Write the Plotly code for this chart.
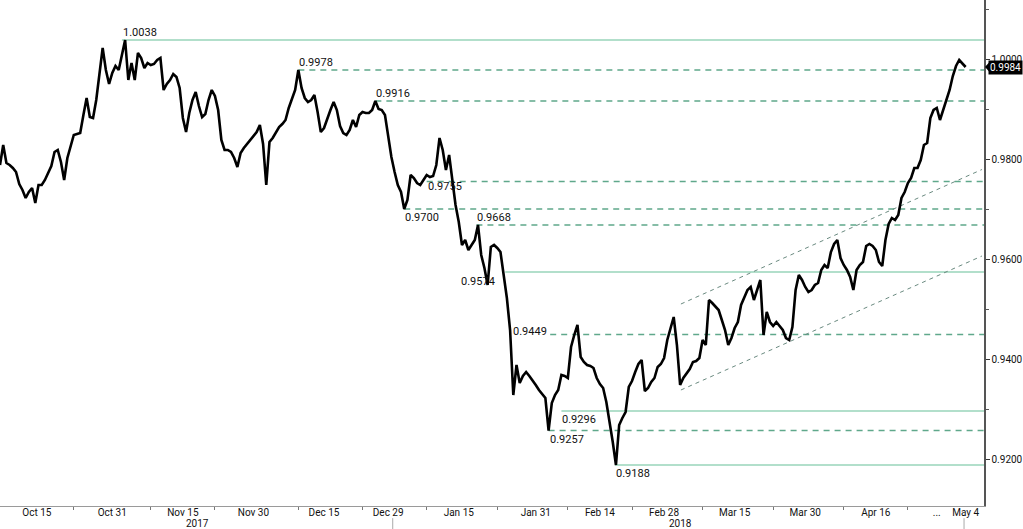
import pandas as pd
import plotly.graph_objects as go

# ---------------- data ----------------
first_day = "2017-10-06"
last_day = "2018-05-04"
# two readings per trading day (06:00 and 18:00)
price = [
    0.9788, 0.9828, 0.9792, 0.9788, 0.9782, 0.9774, 0.9750, 0.9738, 0.9722, 0.9734,
    0.9742, 0.9712, 0.9748, 0.9748, 0.9758, 0.9774, 0.9786, 0.9814, 0.9818, 0.9794,
    0.9758, 0.9802, 0.9828, 0.9848, 0.9850, 0.9852, 0.9888, 0.9922, 0.9884, 0.9882,
    0.9918, 0.9968, 1.0022, 0.9978, 0.9950, 0.9972, 0.9986, 0.9978, 1.0008, 1.0038,
    0.9958, 0.9992, 0.9958, 1.0012, 1.0002, 0.9982, 0.9992, 0.9988, 0.9990, 0.9998,
    1.0002, 0.9938, 0.9950, 0.9958, 0.9970, 0.9964, 0.9942, 0.9882, 0.9854, 0.9892,
    0.9918, 0.9934, 0.9906, 0.9884, 0.9890, 0.9918, 0.9938, 0.9926, 0.9898, 0.9838,
    0.9818, 0.9818, 0.9814, 0.9802, 0.9784, 0.9812, 0.9822, 0.9830, 0.9838, 0.9844,
    0.9854, 0.9868, 0.9830, 0.9748, 0.9834, 0.9842, 0.9852, 0.9864, 0.9870, 0.9878,
    0.9902, 0.9922, 0.9938, 0.9978, 0.9942, 0.9922, 0.9914, 0.9918, 0.9928, 0.9894,
    0.9854, 0.9862, 0.9882, 0.9898, 0.9914, 0.9898, 0.9866, 0.9852, 0.9848, 0.9858,
    0.9878, 0.9864, 0.9888, 0.9894, 0.9892, 0.9892, 0.9898, 0.9916, 0.9900, 0.9898,
    0.9888, 0.9848, 0.9804, 0.9774, 0.9748, 0.9734, 0.9700, 0.9718, 0.9768, 0.9762,
    0.9752, 0.9748, 0.9758, 0.9768, 0.9764, 0.9766, 0.9788, 0.9842, 0.9818, 0.9778,
    0.9808, 0.9754, 0.9708, 0.9674, 0.9628, 0.9638, 0.9618, 0.9628, 0.9638, 0.9668,
    0.9608, 0.9582, 0.9548, 0.9624, 0.9628, 0.9622, 0.9614, 0.9568, 0.9522, 0.9458,
    0.9328, 0.9388, 0.9352, 0.9366, 0.9374, 0.9366, 0.9358, 0.9348, 0.9338, 0.9330,
    0.9322, 0.9257, 0.9312, 0.9328, 0.9338, 0.9368, 0.9366, 0.9362, 0.9424, 0.9448,
    0.9468, 0.9404, 0.9394, 0.9388, 0.9386, 0.9382, 0.9362, 0.9350, 0.9342, 0.9314,
    0.9278, 0.9234, 0.9188, 0.9268, 0.9282, 0.9294, 0.9344, 0.9356, 0.9374, 0.9390,
    0.9398, 0.9336, 0.9342, 0.9354, 0.9362, 0.9384, 0.9390, 0.9402, 0.9438, 0.9462,
    0.9484, 0.9428, 0.9348, 0.9362, 0.9372, 0.9380, 0.9394, 0.9396, 0.9402, 0.9438,
    0.9428, 0.9518, 0.9512, 0.9504, 0.9498, 0.9478, 0.9458, 0.9428, 0.9442, 0.9462,
    0.9474, 0.9508, 0.9524, 0.9538, 0.9544, 0.9518, 0.9538, 0.9558, 0.9448, 0.9494,
    0.9474, 0.9466, 0.9474, 0.9466, 0.9458, 0.9442, 0.9438, 0.9464, 0.9538, 0.9568,
    0.9558, 0.9544, 0.9534, 0.9538, 0.9548, 0.9552, 0.9578, 0.9588, 0.9582, 0.9614,
    0.9630, 0.9638, 0.9602, 0.9588, 0.9578, 0.9564, 0.9538, 0.9578, 0.9588, 0.9594,
    0.9626, 0.9630, 0.9626, 0.9618, 0.9594, 0.9586, 0.9638, 0.9670, 0.9682, 0.9678,
    0.9688, 0.9722, 0.9734, 0.9752, 0.9762, 0.9782, 0.9782, 0.9798, 0.9828, 0.9832,
    0.9882, 0.9898, 0.9902, 0.9878, 0.9898, 0.9914, 0.9938, 0.9966, 0.9986, 0.9998,
    0.9990, 0.9984,
]
last_price = 0.9984

# support / resistance levels
level_values = [1.0038, 0.9978, 0.9916, 0.9755, 0.9700, 0.9668, 0.9574, 0.9449, 0.9296, 0.9257, 0.9188]
level_labels = ["1.0038", "0.9978", "0.9916", "0.9755", "0.9700", "0.9668", "0.9574", "0.9449", "0.9296", "0.9257", "0.9188"]
level_starts = ["2017-11-02 06:00", "2017-12-11 18:00", "2017-12-27 18:00", "2018-01-08 18:00",
                "2018-01-03 06:00", "2018-01-18 12:00", "2018-01-25 00:00", "2018-02-05 00:00",
                "2018-02-06 18:00", "2018-02-02 18:00", "2018-02-19 03:00"]
level_kinds = ["solid", "dash", "dash", "dash", "dash", "dash", "solid", "dash", "solid", "dash", "solid"]
label_place = ["above", "above", "above", "on", "below", "above", "leftbelow", "left", "below", "below", "below"]

# rising channel
channel_dates = ["2018-03-05 09:00", "2018-05-09 07:00"]
channel_upper = [0.9510, 0.9779]
channel_lower = [0.9338, 0.9606]

# axis labels
x_tick_dates = ["2017-10-16 00:00", "2017-10-31 18:00", "2017-11-15 18:00", "2017-11-30 18:00",
                "2017-12-15 18:00", "2017-12-29 18:00", "2018-01-15 18:00", "2018-01-31 18:00",
                "2018-02-14 18:00", "2018-02-28 18:00", "2018-03-15 18:00", "2018-03-30 18:00",
                "2018-04-16 18:00", "2018-04-30 06:00", "2018-05-04 18:00"]
x_tick_text = ["Oct 15", "Oct 31", "Nov 15", "Nov 30", "Dec 15", "Dec 29", "Jan 15", "Jan 31",
               "Feb 14", "Feb 28", "Mar 15", "Mar 30", "Apr 16", "...", "May 4"]
x_minor_dates = ["2017-10-23 18:00", "2017-11-08 18:00", "2017-11-22 18:00", "2017-12-11 18:00",
                 "2017-12-25 18:00", "2018-01-08 18:00", "2018-01-23 18:00", "2018-02-07 18:00",
                 "2018-02-21 18:00", "2018-03-08 18:00", "2018-03-23 18:00", "2018-04-09 18:00",
                 "2018-04-23 18:00"]
years = ["2017", "2018"]
year_label_dates = ["2017-11-20 00:00", "2018-03-05 09:00"]
year_sep_dates = ["2018-01-01 11:00", "2018-05-04 12:00"]
y_tick_vals = [0.92, 0.94, 0.96, 0.98, 1.00]
y_tick_text = ["0.9200", "0.9400", "0.9600", "0.9800", "1.0000"]

x_range = ["2017-10-06 06:00", "2018-05-09 14:40"]
y_range = [0.9106, 1.0118]

# ---------------- build ----------------
days = pd.bdate_range(first_day, last_day)
times = []
for d in days:
    times.append(d + pd.Timedelta(hours=6))
    times.append(d + pd.Timedelta(hours=18))

FONT = "Roboto, Arial, sans-serif"
SOLID_C = "#98d4ba"
DASH_C = "#5fa88b"
CHAN_C = "#6a8a80"

fig = go.Figure()

shapes = []
annotations = []
for val, lab, st, kind, place in zip(level_values, level_labels, level_starts, level_kinds, label_place):
    shapes.append(dict(type="line", xref="x", yref="y", x0=st, x1=x_range[1], y0=val, y1=val,
                       line=dict(color=SOLID_C if kind == "solid" else DASH_C, width=1.6,
                                 dash="solid" if kind == "solid" else "6px,5px"),
                       layer="below"))
    a = dict(x=st, y=val, xref="x", yref="y", text=lab, showarrow=False,
             font=dict(family=FONT, size=11, color="#111"), xanchor="left", borderpad=0)
    if place == "above":
        a.update(yanchor="bottom", yshift=0)
    elif place == "below":
        a.update(yanchor="top", yshift=-1)
    elif place == "on":
        a.update(yanchor="top", yshift=3)
    elif place == "leftbelow":
        a.update(xanchor="right", xshift=-9, yanchor="top", yshift=-2)
    elif place == "left":
        a.update(xanchor="right", xshift=-2, yanchor="middle", yshift=3)
    annotations.append(a)

fig.add_trace(go.Scatter(x=channel_dates, y=channel_upper, mode="lines",
                         line=dict(color=CHAN_C, width=1, dash="4px,4px"), hoverinfo="skip"))
fig.add_trace(go.Scatter(x=channel_dates, y=channel_lower, mode="lines",
                         line=dict(color=CHAN_C, width=1, dash="4px,4px"), hoverinfo="skip"))

fig.add_trace(go.Scatter(x=times, y=price, mode="lines",
                         line=dict(color="#000000", width=2.6), hoverinfo="skip"))

for yl, yd in zip(years, year_label_dates):
    annotations.append(dict(x=yd, y=-0.034, xref="x", yref="paper", text=yl, showarrow=False,
                            font=dict(family=FONT, size=10, color="#111"), yanchor="middle"))
for sd in year_sep_dates:
    shapes.append(dict(type="line", xref="x", yref="paper", x0=sd, x1=sd, y0=-0.024, y1=-0.05,
                       line=dict(color="#aaaaaa", width=1)))

# last-price tag
annotations.append(dict(x=1, xref="paper", y=last_price, yref="y", text=f"{last_price:.4f}",
                        showarrow=False, xanchor="left", xshift=4, yanchor="middle",
                        font=dict(family=FONT, size=10, color="#ffffff"),
                        bgcolor="#000000", borderpad=1))
shapes.append(dict(type="path", xref="paper", yref="y",
                   path=f"M 1.001,{last_price} L 1.0065,{last_price + 0.0012} L 1.0065,{last_price - 0.0012} Z",
                   fillcolor="#000000", line=dict(width=0)))

fig.update_layout(
    width=1023, height=529,
    margin=dict(l=0, r=36, t=0, b=23),
    paper_bgcolor="white", plot_bgcolor="white",
    showlegend=False, hovermode=False,
    shapes=shapes, annotations=annotations,
    xaxis=dict(type="date", range=x_range,
               rangebreaks=[dict(bounds=["sat", "mon"])],
               tickmode="array", tickvals=x_tick_dates, ticktext=x_tick_text,
               ticks="", showgrid=False, zeroline=False, ticklabelstandoff=-3,
               showline=True, linecolor="#9a9a9a", linewidth=1,
               tickfont=dict(family=FONT, size=10, color="#111"),
               minor=dict(tickmode="array", tickvals=x_minor_dates, ticks="outside",
                          ticklen=3, tickcolor="#777", showgrid=False)),
    yaxis=dict(side="right", range=y_range,
               tickmode="array", tickvals=y_tick_vals, ticktext=y_tick_text,
               ticks="outside", ticklen=4, tickcolor="#333", tickwidth=1,
               showgrid=False, zeroline=False,
               showline=True, linecolor="#555555", linewidth=1.5,
               tickfont=dict(family=FONT, size=10, color="#111"),
               minor=dict(tickmode="linear", tick0=0.91, dtick=0.02, ticks="outside",
                          ticklen=3, tickcolor="#555", showgrid=False)),
)

fig.write_html(
    "out.html",
    config={"displayModeBar": False, "staticPlot": True},
    post_script="document.body.style.margin='0';document.body.style.overflow='hidden';",
)
